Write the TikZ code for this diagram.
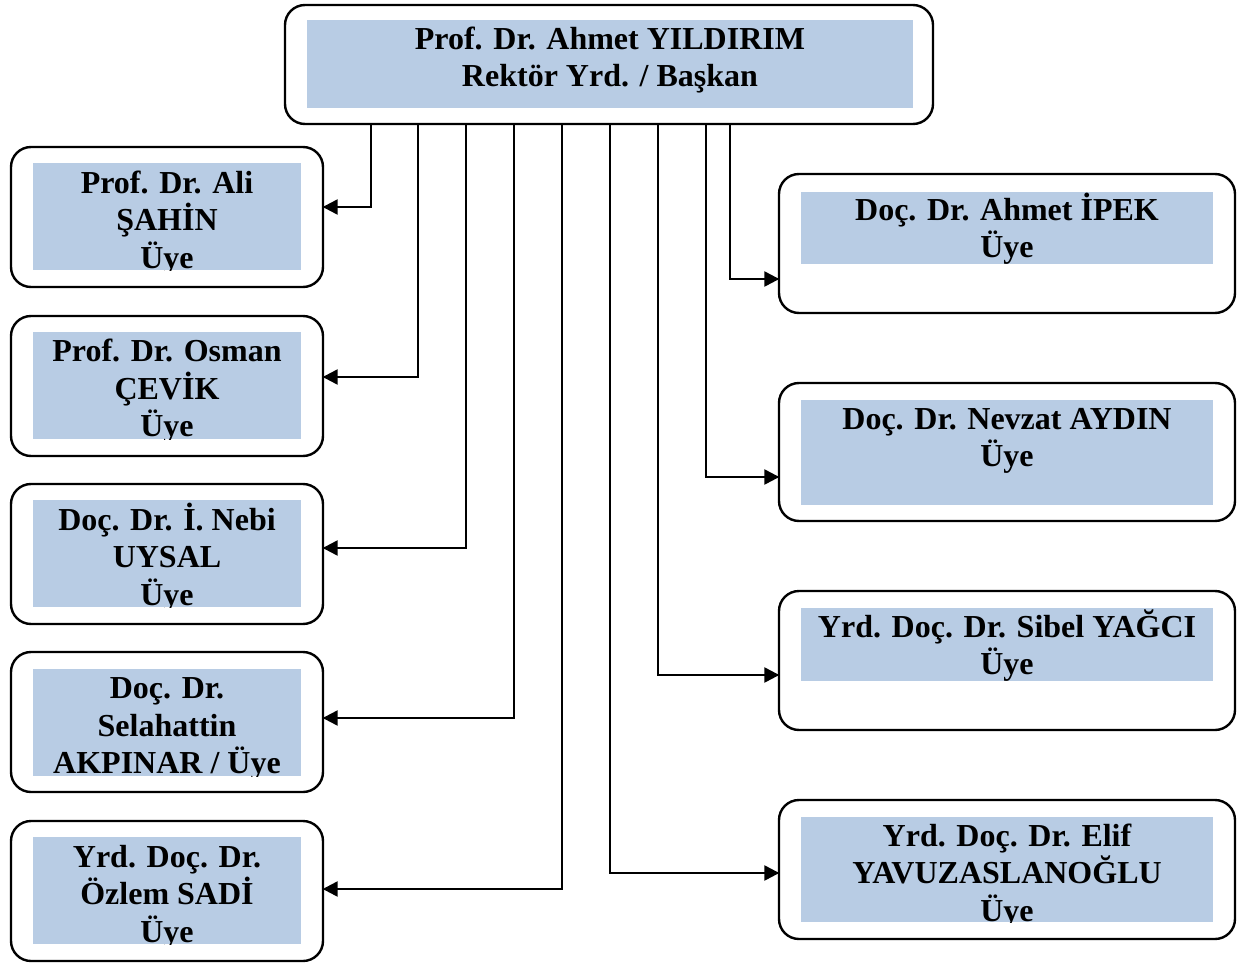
\documentclass[tikz,border=0pt]{standalone}
\usepackage{fontspec}
\setmainfont{Liberation Serif}
\usetikzlibrary{arrows.meta}
\definecolor{boxblue}{HTML}{B8CCE4}
\begin{document}
\begin{tikzpicture}[x=1pt,y=-1pt,
  outerbox/.style={draw, line width=2.4pt, rounded corners=20pt, inner sep=0pt, fill=white},
  bluebox/.style={fill=boxblue, inner sep=0pt},
  txt/.style={font=\bfseries\fontsize{32}{37.5}\selectfont, align=center, inner sep=0pt, anchor=base},
  conn/.style={line width=2.4pt, -{Triangle[length=15pt,width=15pt]}, shorten >=-1.5pt}]
\useasboundingbox (0,0) rectangle (1237,963);
% top
\node[outerbox, minimum width=648pt, minimum height=119pt] (top) at (609,64.5) {};
\node[bluebox, minimum width=606pt, minimum height=88pt] (topb) at (610,64) {};
\node[txt] (topt) at (610,87) {Prof. Dr. Ahmet YILDIRIM\\Rektör Yrd. / Başkan};
% left boxes
\node[outerbox, minimum width=312pt, minimum height=140pt] (L1) at (167,217) {};
\node[bluebox, minimum width=268pt, minimum height=107pt] (L1b) at (167,216.5) {};
\node[outerbox, minimum width=312pt, minimum height=140pt] (L2) at (167,386) {};
\node[bluebox, minimum width=268pt, minimum height=107pt] (L2b) at (167,385.5) {};
\node[outerbox, minimum width=312pt, minimum height=140pt] (L3) at (167,554) {};
\node[bluebox, minimum width=268pt, minimum height=107pt] (L3b) at (167,553.5) {};
\node[outerbox, minimum width=312pt, minimum height=140pt] (L4) at (167,722) {};
\node[bluebox, minimum width=268pt, minimum height=107pt] (L4b) at (167,722.5) {};
\node[outerbox, minimum width=312pt, minimum height=140pt] (L5) at (167,891) {};
\node[bluebox, minimum width=268pt, minimum height=107pt] (L5b) at (167,890.5) {};
% right boxes
\node[outerbox, minimum width=456pt, minimum height=139pt] (R1) at (1007,243.5) {};
\node[bluebox, minimum width=412pt, minimum height=72pt] (R1b) at (1007,227.5) {};
\node[outerbox, minimum width=456pt, minimum height=138pt] (R2) at (1007,452) {};
\node[bluebox, minimum width=412pt, minimum height=105pt] (R2b) at (1007,452.5) {};
\node[outerbox, minimum width=456pt, minimum height=139pt] (R3) at (1007,660.5) {};
\node[bluebox, minimum width=412pt, minimum height=73pt] (R3b) at (1007,644.5) {};
\node[outerbox, minimum width=456pt, minimum height=139pt] (R4) at (1007,869.5) {};
\node[bluebox, minimum width=412pt, minimum height=105pt] (R4b) at (1007,869.5) {};
% texts (clipped to blue areas; base anchor = last line baseline)
\begin{scope}\clip (L1b.north west) rectangle (L1b.south east);
\node[txt] (L1t) at (167,268) {Prof. Dr. Ali\\ŞAHİN\\Üye};\end{scope}
\begin{scope}\clip (L2b.north west) rectangle (L2b.south east);
\node[txt] (L2t) at (167,436.5) {Prof. Dr. Osman\\ÇEVİK\\Üye};\end{scope}
\begin{scope}\clip (L3b.north west) rectangle (L3b.south east);
\node[txt] (L3t) at (167,605) {Doç. Dr. İ. Nebi\\UYSAL\\Üye};\end{scope}
\begin{scope}\clip (L4b.north west) rectangle (L4b.south east);
\node[txt] (L4t) at (167,773.5) {Doç. Dr.\\Selahattin\\AKPINAR / Üye};\end{scope}
\begin{scope}\clip (L5b.north west) rectangle (L5b.south east);
\node[txt] (L5t) at (167,942) {Yrd. Doç. Dr.\\Özlem SADİ\\Üye};\end{scope}
\begin{scope}\clip (R1b.north west) rectangle (R1b.south east);
\node[txt] (R1t) at (1007,257.5) {Doç. Dr. Ahmet İPEK\\Üye};\end{scope}
\begin{scope}\clip (R2b.north west) rectangle (R2b.south east);
\node[txt] (R2t) at (1007,466.5) {Doç. Dr. Nevzat AYDIN\\Üye};\end{scope}
\begin{scope}\clip (R3b.north west) rectangle (R3b.south east);
\node[txt] (R3t) at (1007,674.5) {Yrd. Doç. Dr. Sibel YAĞCI\\Üye};\end{scope}
\begin{scope}\clip (R4b.north west) rectangle (R4b.south east);
\node[txt] (R4t) at (1007,921) {Yrd. Doç. Dr. Elif\\YAVUZASLANOĞLU\\Üye};\end{scope}
% connectors
\draw[conn] (top.south -| 371,0) |- (L1.east |- 0,207);
\draw[conn] (top.south -| 418,0) |- (L2.east |- 0,377);
\draw[conn] (top.south -| 466,0) |- (L3.east |- 0,548);
\draw[conn] (top.south -| 514,0) |- (L4.east |- 0,718);
\draw[conn] (top.south -| 562,0) |- (L5.east |- 0,889);
\draw[conn] (top.south -| 730,0) |- (R1.west |- 0,279);
\draw[conn] (top.south -| 706,0) |- (R2.west |- 0,477);
\draw[conn] (top.south -| 658,0) |- (R3.west |- 0,675);
\draw[conn] (top.south -| 610,0) |- (R4.west |- 0,873);
\end{tikzpicture}
\end{document}
